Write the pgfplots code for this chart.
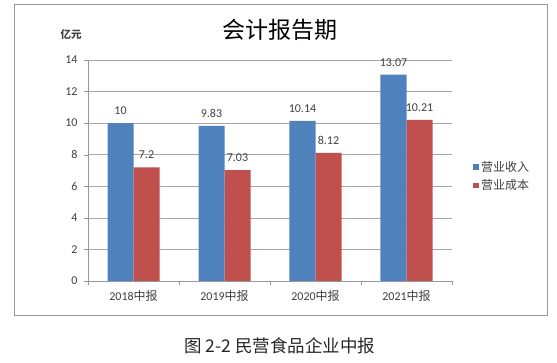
\documentclass[border=0pt]{standalone}
\usepackage{pgfplots}
\pgfplotsset{compat=1.18}
\usepackage{fontspec}
\setmainfont{Carlito}
\newfontfamily\cjk{Noto Sans CJK SC}
\definecolor{cblue}{HTML}{4F81BD}
\definecolor{cred}{HTML}{C0504D}
\definecolor{txt}{HTML}{404040}
\begin{document}
\begin{tikzpicture}
\useasboundingbox (0pt,0pt) rectangle (557pt,363pt);
\draw[gray!80, line width=0.9pt] (14pt,48pt) rectangle (547pt,359pt);
\node[font=\cjk\fontsize{23}{27}\selectfont] at (280pt,333pt) {会计报告期};
\node[font=\cjk\fontsize{10.5}{12}\selectfont\bfseries, text=txt] at (71pt,328pt) {亿元};
\node[font=\cjk\fontsize{17.5}{20}\selectfont, text=black!85] at (280pt,17pt) {图 2-2 民营食品企业中报};
\begin{axis}[
  at={(88pt,82pt)}, anchor=south west,
  scale only axis, width=364pt, height=221pt,
  ybar, bar width=26pt,
  ymin=0, ymax=14, ytick={0,2,...,14},
  xmin=-0.5, xmax=3.5, xtick={0,1,2,3},
  xticklabels={{2018{\cjk 中报}},{2019{\cjk 中报}},{2020{\cjk 中报}},{2021{\cjk 中报}}},
  x tick style={draw=none},
  extra x ticks={-0.5,0.5,1.5,2.5,3.5}, extra x tick labels={},
  extra x tick style={x tick style={draw=gray!80}, major tick length=4pt, tick align=outside},
  y tick style={draw=gray!80}, major tick length=4pt, tick align=outside,
  axis x line*=bottom, axis y line*=left,
  axis line style={draw=gray!80, -},
  ymajorgrids, grid style={gray!70, line width=0.6pt},
  ticklabel style={font=\fontsize{12}{14}\selectfont, text=txt},
  yticklabel style={xshift=-3pt},
  /pgf/number format/assume math mode=true,
  xticklabel style={yshift=-2pt},
  clip=false,
  nodes near coords,
  every node near coord/.append style={font=\fontsize{12}{14}\selectfont, text=txt, yshift=5pt},
  legend style={at={(1.05,0.475)}, anchor=west, draw=none, fill=none,
    font=\cjk\fontsize{12}{14}\selectfont, text=txt, row sep=3pt},
  legend cell align=left,
  legend image code/.code={\fill[#1] (0pt,-2.8pt) rectangle (5.6pt,2.8pt);},
]
\addplot[bar shift=-13pt, fill=cblue, draw=none]
  coordinates {(0,10) (1,9.83) (2,10.14) (3,13.07)};
\addlegendentry{营业收入}
\addplot[bar shift=13pt, fill=cred, draw=none]
  coordinates {(0,7.2) (1,7.03) (2,8.12) (3,10.21)};
\addlegendentry{营业成本}
\end{axis}
\end{tikzpicture}
\end{document}
